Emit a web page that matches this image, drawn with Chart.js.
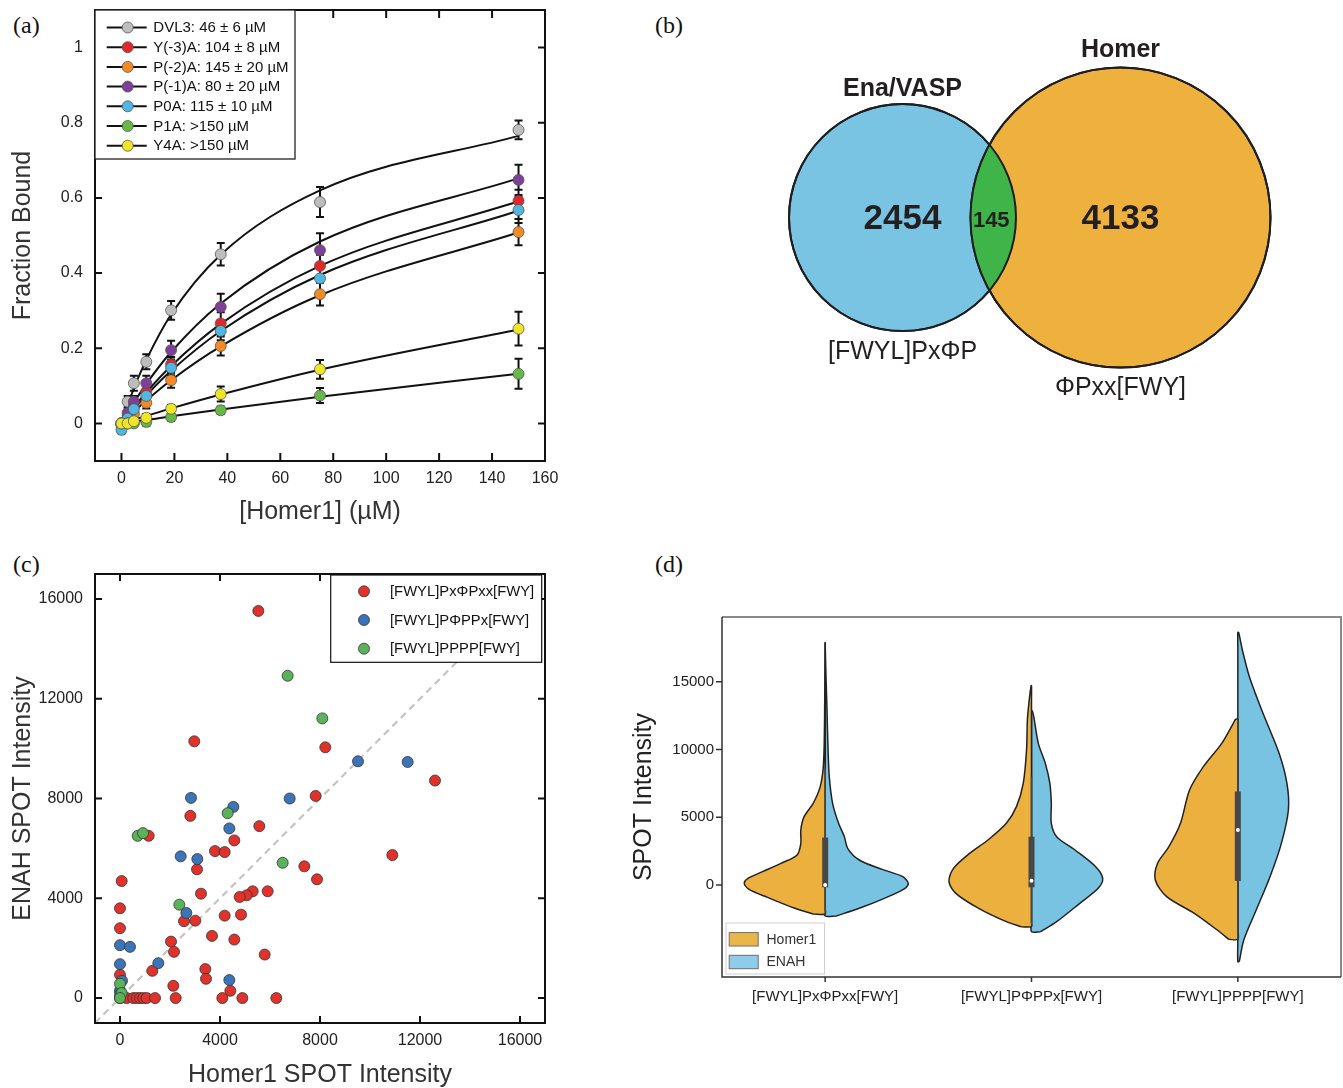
<!DOCTYPE html>
<html>
<head>
<meta charset="utf-8">
<script src="https://cdn.jsdelivr.net/npm/chart.js@4.4.1/dist/chart.umd.min.js"></script>
<style>
  html,body{margin:0;padding:0;background:#fff;}
  body{width:1343px;height:1088px;position:relative;overflow:hidden;}
  canvas{position:absolute;}
  .plab{position:absolute;font-family:"Liberation Serif","Times New Roman",serif;font-size:24px;line-height:24px;color:#111;}
</style>
</head>
<body>
<div class="plab" style="left:13px;top:13px;">(a)</div>
<div class="plab" style="left:655px;top:13px;">(b)</div>
<div class="plab" style="left:13px;top:552px;">(c)</div>
<div class="plab" style="left:655px;top:552px;">(d)</div>

<canvas id="ca" width="620" height="540" style="left:0;top:0;width:620px;height:540px;"></canvas>
<canvas id="cb" width="703" height="430" style="left:640px;top:0;width:703px;height:430px;"></canvas>
<canvas id="cc" width="620" height="538" style="left:0;top:550px;width:620px;height:538px;"></canvas>
<canvas id="cd" width="723" height="538" style="left:620px;top:550px;width:723px;height:538px;"></canvas>

<script>
// ================= DATA =================
// ---- Panel (a): binding data (points) ----
const concA = [0, 2.34, 4.69, 9.38, 18.75, 37.5, 75, 150];
const namesA = ['DVL3: 46 ± 6 µM', 'Y(-3)A: 104 ± 8 µM', 'P(-2)A: 145 ± 20 µM', 'P(-1)A: 80 ± 20 µM', 'P0A: 115 ± 10 µM', 'P1A: >150 µM', 'Y4A: >150 µM'];
const fbDVL3 = [-0.005, 0.058, 0.107, 0.164, 0.301, 0.450, 0.589, 0.781];
const fbY3A  = [0.000, 0.020, 0.048, 0.084, 0.157, 0.266, 0.419, 0.592];
const fbP2A  = [0.000, 0.010, 0.025, 0.055, 0.115, 0.206, 0.344, 0.509];
const fbP1A  = [0.000, 0.028, 0.058, 0.107, 0.195, 0.310, 0.461, 0.648];
const fbP0A  = [-0.017, 0.013, 0.038, 0.073, 0.148, 0.246, 0.386, 0.568];
const fbP1Ala= [0.000, 0.000, 0.000, 0.004, 0.017, 0.035, 0.074, 0.132];
const fbY4A  = [0.000, 0.000, 0.006, 0.015, 0.039, 0.078, 0.144, 0.252];
// error bars (half-heights)
const errDVL3 = [0.01, 0.015, 0.02, 0.02, 0.025, 0.03, 0.04, 0.025];
const errY3A  = [0.01, 0.01, 0.01, 0.015, 0.02, 0.03, 0.03, 0.03];
const errP2A  = [0.01, 0.01, 0.01, 0.015, 0.02, 0.025, 0.03, 0.035];
const errP1A  = [0.01, 0.01, 0.015, 0.02, 0.025, 0.035, 0.045, 0.04];
const errP0A  = [0.01, 0.01, 0.01, 0.015, 0.02, 0.025, 0.035, 0.035];
const errP1Ala= [0.005, 0.005, 0.005, 0.01, 0.01, 0.01, 0.02, 0.04];
const errY4A  = [0.005, 0.005, 0.005, 0.01, 0.01, 0.02, 0.025, 0.045];
// fitted curves at the same concentrations
const fitDVL3 = [0, 0.048, 0.093, 0.169, 0.290, 0.449, 0.620, 0.765];
const fitY3A  = [0, 0.022, 0.043, 0.083, 0.153, 0.265, 0.419, 0.591];
const fitP2A  = [0, 0.016, 0.031, 0.061, 0.115, 0.205, 0.341, 0.508];
const fitP1A  = [0, 0.028, 0.055, 0.105, 0.190, 0.319, 0.484, 0.652];
const fitP0A  = [0, 0.020, 0.039, 0.075, 0.140, 0.246, 0.395, 0.566];
const fitP1Ala= [0, 0.002, 0.005, 0.009, 0.019, 0.037, 0.071, 0.132];
const fitY4A  = [0, 0.005, 0.010, 0.020, 0.040, 0.077, 0.143, 0.250];
const xTicksA = [0, 20, 40, 60, 80, 100, 120, 140, 160];
const yTicksA = [0, 0.2, 0.4, 0.6, 0.8, 1];
const yTickLabelsA = ['0', '0.2', '0.4', '0.6', '0.8', '1'];

// ---- Panel (b): Venn counts ----
const vennSets = ['Ena/VASP', 'Homer'];
const vennOnly = [2454, 4133];
const vennShared = 145;
const vennMotifs = ['[FWYL]PxΦP', 'ΦPxx[FWY]'];

// ---- Panel (c): SPOT intensities ----
const namesC = ['[FWYL]PxΦPxx[FWY]', '[FWYL]PΦPPx[FWY]', '[FWYL]PPPP[FWY]'];
const redX = [5533, 2973, 8213, 12600, 7827, 2813, 5573, 1147, 4573, 3800, 4187, 10893, 7373, 3080, 67, 7880, 5907, 5307, 5067, 4787, 3240, 0, 4187, 4840, 2560, 3013, 0, 3680, 4573, 2040, 2160, 5787, 1293, 3413, 3440, 0, 2133, 4413, 0, 267, 533, 667, 800, 933, 1067, 1400, 2227, 4093, 4893, 6253];
const redY = [15520, 10292, 10052, 8720, 8104, 7304, 6892, 6504, 6320, 5892, 5852, 5732, 5280, 5160, 4692, 4760, 4280, 4280, 4120, 4052, 4184, 3600, 3304, 3344, 3080, 3104, 2800, 2492, 2344, 2264, 1852, 1744, 1092, 1160, 772, 932, 492, 292, 0, 0, 0, 0, 0, 0, 0, 0, 0, 0, 0, 0];
const blueX = [9520, 11507, 2840, 6787, 4533, 4373, 2427, 3093, 2653, 0, 400, 0, 1533, 80, 4373, 0, 0];
const blueY = [9492, 9464, 8024, 8000, 7664, 6800, 5680, 5572, 3412, 2120, 2052, 1360, 1400, 692, 720, 300, 150];
const greenX = [6707, 8093, 4307, 707, 920, 6507, 2373, 0, 67, 0];
const greenY = [12920, 11212, 7412, 6504, 6612, 5424, 3744, 572, 200, 0];
const diagXY = [-1000, 17000];
const ticksC = [0, 4000, 8000, 12000, 16000];

// ---- Panel (d): split violins (value, half-width in category units) ----
const catsD = ['[FWYL]PxΦPxx[FWY]', '[FWYL]PΦPPx[FWY]', '[FWYL]PPPP[FWY]'];
const namesD = ['Homer1', 'ENAH'];
const v1HomerVal = [-2140, -1721, -910, -320, 123, 492, 984, 1598, 2213, 3074, 4057, 5041, 6025, 7254, 8730, 10943, 14000, 17900];
const v1HomerW   = [0.058, 0.147, 0.280, 0.369, 0.392, 0.374, 0.303, 0.214, 0.136, 0.118, 0.118, 0.102, 0.058, 0.024, 0.009, 0.004, 0.002, 0];
const v1EnahVal  = [-2287, -1721, -910, -246, 123, 615, 1156, 1844, 2705, 3566, 4549, 6025, 7992, 10451, 12910, 15369, 17900];
const v1EnahW    = [0.053, 0.165, 0.298, 0.387, 0.403, 0.376, 0.276, 0.165, 0.109, 0.093, 0.065, 0.036, 0.020, 0.013, 0.009, 0.004, 0];
const v2HomerVal = [-3074, -2705, -1721, -615, 246, 1230, 2336, 3320, 4549, 5779, 7500, 9959, 12172, 13647, 14705];
const v2HomerW   = [0.049, 0.122, 0.256, 0.367, 0.400, 0.378, 0.300, 0.211, 0.122, 0.073, 0.040, 0.024, 0.020, 0.011, 0.002];
const v2EnahVal  = [-3443, -2705, -1352, -246, 492, 1352, 2582, 3566, 4549, 6025, 7500, 8975, 10451, 12418, 12836];
const v2EnahW    = [0.044, 0.122, 0.234, 0.323, 0.345, 0.311, 0.211, 0.122, 0.096, 0.096, 0.089, 0.067, 0.033, 0.011, 0.004];
const v3HomerVal = [-4008, -3320, -2090, -861, 369, 1598, 2828, 4549, 7008, 8730, 10451, 11926, 12221];
const v3HomerW   = [0.044, 0.100, 0.211, 0.345, 0.400, 0.389, 0.334, 0.278, 0.234, 0.167, 0.078, 0.022, 0.011];
const v3EnahVal  = [-5656, -4057, -1844, 615, 3074, 5533, 7500, 9713, 12664, 15369, 17336, 18640];
const v3EnahW    = [0.007, 0.029, 0.089, 0.156, 0.211, 0.245, 0.238, 0.200, 0.122, 0.056, 0.022, 0.004];
const boxQ1  = [-170, -170, 300];
const boxQ3  = [3500, 3560, 6900];
const boxMed = [0, 320, 4050];
const whiskLo = [-2100, -3000, -4000];
const whiskHi = [8600, 8000, 12200];
const yTicksD = [0, 5000, 10000, 15000];

// ================= STYLE / HELPERS =================
const SANS = '"Liberation Sans", Arial, Helvetica, sans-serif';
Chart.defaults.font.family = SANS;
Chart.defaults.color = '#222';
Chart.defaults.animation = false;
Chart.defaults.events = [];
Chart.defaults.plugins.legend.display = false;
Chart.defaults.plugins.tooltip.enabled = false;

const colorsA = ['#BDBDBD', '#E3262A', '#F58A25', '#7E3F98', '#4FB7E2', '#67B845', '#F0E526'];
const colorsC = ['#E0312B', '#3C74BA', '#5AB35A'];
const colorsD = ['#ECB03E', '#79C3E2'];

function xy(xs, ys) { return xs.map((x, i) => ({x: x, y: ys[i]})); }
function fixX(h) { return s => { s.height = h; s.paddingLeft = 0; s.paddingRight = 0; }; }
function fixY(w) { return s => { s.width = w; s.paddingTop = 0; s.paddingBottom = 0; }; }

// frame with inward ticks on all four sides
const boxFrame = {
  id: 'boxFrame',
  afterDatasetsDraw(chart, args, o) {
    const {ctx, chartArea: a, scales: {x, y}} = chart;
    ctx.save();
    ctx.strokeStyle = '#111';
    ctx.lineWidth = 2;
    ctx.beginPath();
    x.ticks.forEach(t => {
      const px = x.getPixelForValue(t.value);
      ctx.moveTo(px, a.bottom); ctx.lineTo(px, a.bottom - o.xLen);
      ctx.moveTo(px, a.top); ctx.lineTo(px, a.top + o.xLen);
    });
    y.ticks.forEach(t => {
      const py = y.getPixelForValue(t.value);
      ctx.moveTo(a.left, py); ctx.lineTo(a.left + o.yLen, py);
      ctx.moveTo(a.right, py); ctx.lineTo(a.right - o.yLen, py);
    });
    ctx.stroke();
    ctx.strokeRect(a.left, a.top, a.right - a.left, a.bottom - a.top);
    ctx.restore();
  }
};

// ================= PANEL (a) =================
const seriesA = [fbDVL3, fbY3A, fbP2A, fbP1A, fbP0A, fbP1Ala, fbY4A];
const fitsA = [fitDVL3, fitY3A, fitP2A, fitP1A, fitP0A, fitP1Ala, fitY4A];
const errsA = [errDVL3, errY3A, errP2A, errP1A, errP0A, errP1Ala, errY4A];

const errorBars = {
  id: 'errorBars',
  beforeDatasetsDraw(chart) {
    const {ctx, scales: {x, y}} = chart;
    ctx.save();
    ctx.strokeStyle = '#111';
    ctx.lineWidth = 2;
    ctx.beginPath();
    seriesA.forEach((s, i) => {
      s.forEach((v, j) => {
        const e = errsA[i][j];
        const px = x.getPixelForValue(concA[j]);
        const p1 = y.getPixelForValue(v + e), p2 = y.getPixelForValue(v - e);
        ctx.moveTo(px, p1); ctx.lineTo(px, p2);
        ctx.moveTo(px - 4, p1); ctx.lineTo(px + 4, p1);
        ctx.moveTo(px - 4, p2); ctx.lineTo(px + 4, p2);
      });
    });
    ctx.stroke();
    ctx.restore();
  }
};

const legendA = {
  id: 'legendA',
  afterDraw(chart) {
    const {ctx, chartArea: a} = chart;
    ctx.save();
    ctx.fillStyle = '#fff';
    ctx.fillRect(a.left, a.top, 200, 149);
    ctx.strokeStyle = '#222';
    ctx.lineWidth = 1.3;
    ctx.strokeRect(a.left, a.top, 200, 149);
    ctx.font = '15px ' + SANS;
    ctx.textBaseline = 'middle';
    namesA.forEach((n, i) => {
      const cy = a.top + 17.5 + i * 19.7;
      ctx.strokeStyle = '#111'; ctx.lineWidth = 2;
      ctx.beginPath(); ctx.moveTo(a.left + 11.7, cy); ctx.lineTo(a.left + 51.7, cy); ctx.stroke();
      ctx.beginPath(); ctx.arc(a.left + 32.7, cy, 5.5, 0, Math.PI * 2);
      ctx.fillStyle = colorsA[i]; ctx.fill();
      ctx.lineWidth = 0.8; ctx.strokeStyle = '#555'; ctx.stroke();
      ctx.fillStyle = '#111';
      ctx.fillText(n, a.left + 58.3, cy + 0.5);
    });
    ctx.restore();
  }
};

const dsA = [];
fitsA.forEach((s, i) => {
  dsA.push({
    type: 'line', data: xy(concA, s), borderColor: '#111', borderWidth: 2,
    pointRadius: 0, cubicInterpolationMode: 'monotone', fill: false, order: 10
  });
});
seriesA.forEach((s, i) => {
  dsA.push({
    type: 'scatter', data: xy(concA, s), backgroundColor: colorsA[i], borderColor: '#555',
    borderWidth: 0.8, pointRadius: 5.5, showLine: false, order: -i
  });
});

new Chart(document.getElementById('ca'), {
  type: 'scatter',
  data: {datasets: dsA},
  options: {
    responsive: false,
    layout: {padding: {top: 10, right: 75, left: 0, bottom: 0}, autoPadding: false},
    scales: {
      x: {
        type: 'linear', min: -10, max: 160,
        afterBuildTicks: s => { s.ticks = xTicksA.map(v => ({value: v})); },
        afterFit: fixX(79),
        grid: {display: false, drawTicks: false}, border: {display: false},
        ticks: {font: {size: 16}, color: '#222', padding: 8, maxRotation: 0, callback: v => String(v)},
        title: {display: true, text: '[Homer1] (µM)', font: {size: 25}, color: '#333', padding: {top: 0, bottom: 13}}
      },
      y: {
        type: 'linear', min: -0.1, max: 1.1,
        afterBuildTicks: s => { s.ticks = yTicksA.map(v => ({value: v})); },
        afterFit: fixY(95),
        grid: {display: false, drawTicks: false}, border: {display: false},
        ticks: {font: {size: 16}, color: '#222', padding: 12, callback: (v, i) => yTickLabelsA[i]},
        title: {display: true, text: 'Fraction Bound', font: {size: 25}, color: '#333', padding: {top: 8, bottom: 0}}
      }
    },
    plugins: {boxFrame: {xLen: 8, yLen: 7}}
  },
  plugins: [errorBars, boxFrame, legendA]
});

// ================= PANEL (b) =================
const vennColors = ['#79C4E3', '#EEB13E'];
const vennRadius = [113.5, 150];
const vennDraw = {
  id: 'vennDraw',
  afterDatasetsDraw(chart) {
    const {ctx} = chart;
    const els = chart.getDatasetMeta(0).data;
    const A = els[0], B = els[1];
    const rA = vennRadius[0], rB = vennRadius[1];
    ctx.save();
    ctx.beginPath(); ctx.arc(A.x, A.y, rA, 0, Math.PI * 2); ctx.clip();
    ctx.beginPath(); ctx.arc(B.x, B.y, rB, 0, Math.PI * 2);
    ctx.fillStyle = '#3FB549'; ctx.fill();
    ctx.restore();
    ctx.save();
    ctx.strokeStyle = '#1E1E1E'; ctx.lineWidth = 2;
    ctx.beginPath(); ctx.arc(A.x, A.y, rA, 0, Math.PI * 2); ctx.stroke();
    ctx.beginPath(); ctx.arc(B.x, B.y, rB, 0, Math.PI * 2); ctx.stroke();
    ctx.fillStyle = '#231F20';
    ctx.textAlign = 'center';
    ctx.textBaseline = 'alphabetic';
    ctx.font = 'bold 25px ' + SANS;
    ctx.fillText(vennSets[0], A.x, A.y - rA - 8);
    ctx.fillText(vennSets[1], B.x, B.y - rB - 11);
    ctx.font = 'bold 35px ' + SANS;
    ctx.fillText(String(vennOnly[0]), A.x, A.y + 11);
    ctx.fillText(String(vennOnly[1]), B.x, B.y + 11);
    ctx.font = 'bold 22px ' + SANS;
    const lensX = ((B.x - rB) + (A.x + rA)) / 2 - 2;
    ctx.fillText(String(vennShared), lensX, A.y + 9);
    ctx.font = '25px ' + SANS;
    ctx.fillText(vennMotifs[0], A.x, A.y + rA + 28);
    ctx.fillText(vennMotifs[1], B.x, B.y + rB + 27.5);
    ctx.restore();
  }
};
new Chart(document.getElementById('cb'), {
  type: 'bubble',
  data: {datasets: [{
    data: vennSets.map((s, i) => ({x: i, y: 0})),
    backgroundColor: vennColors,
    borderColor: '#1E1E1E', borderWidth: 2,
    radius: ctx => vennRadius[ctx.dataIndex]
  }]},
  options: {
    responsive: false,
    layout: {padding: 0, autoPadding: false},
    scales: {
      x: {type: 'linear', display: false, min: -1.2041, max: 2.0206},
      y: {type: 'linear', display: false, min: -0.9879, max: 1.0121}
    }
  },
  plugins: [vennDraw]
});

// ================= PANEL (c) =================
const legendC = {
  id: 'legendC',
  afterDraw(chart) {
    const {ctx, chartArea: a} = chart;
    const L = 330.7, T = a.top + 1, W = 211, H = 87.3;
    ctx.save();
    ctx.fillStyle = '#fff'; ctx.fillRect(L, T, W, H);
    ctx.strokeStyle = '#111'; ctx.lineWidth = 1.2; ctx.strokeRect(L, T, W, H);
    ctx.font = '14.8px ' + SANS; ctx.textBaseline = 'middle';
    namesC.forEach((n, i) => {
      const cy = T + 16.3 + i * 28.7;
      ctx.beginPath(); ctx.arc(L + 33.3, cy, 5.5, 0, Math.PI * 2);
      ctx.fillStyle = colorsC[i]; ctx.fill();
      ctx.strokeStyle = '#333'; ctx.lineWidth = 0.8; ctx.stroke();
      ctx.fillStyle = '#111';
      ctx.fillText(n, L + 59.3, cy + 0.5);
    });
    ctx.restore();
  }
};
const ptsC = [[redX, redY], [blueX, blueY], [greenX, greenY]];
const dsC = [{
  data: xy(diagXY, diagXY), showLine: true, borderColor: '#C4C4C4', borderWidth: 2.2,
  borderDash: [7, 5], pointRadius: 0, fill: false, order: 20
}];
ptsC.forEach((p, i) => {
  dsC.push({data: xy(p[0], p[1]), backgroundColor: colorsC[i], borderColor: '#333', borderWidth: 0.8, pointRadius: 5.5, order: 3 - i});
});
new Chart(document.getElementById('cc'), {
  type: 'scatter',
  data: {datasets: dsC},
  options: {
    responsive: false,
    layout: {padding: {top: 24, right: 75, left: 0, bottom: 0}, autoPadding: false},
    scales: {
      x: {
        type: 'linear', min: -1000, max: 17000,
        afterBuildTicks: s => { s.ticks = ticksC.map(v => ({value: v})); },
        afterFit: fixX(65),
        grid: {display: false, drawTicks: false}, border: {display: false},
        ticks: {font: {size: 16}, color: '#222', padding: 8, maxRotation: 0, callback: v => String(v)},
        title: {display: true, text: 'Homer1 SPOT Intensity', font: {size: 25}, color: '#333', padding: {top: 0, bottom: -2}}
      },
      y: {
        type: 'linear', min: -1000, max: 17000,
        afterBuildTicks: s => { s.ticks = ticksC.map(v => ({value: v})); },
        afterFit: fixY(95),
        grid: {display: false, drawTicks: false}, border: {display: false},
        ticks: {font: {size: 16}, color: '#222', padding: 12, callback: v => String(v)},
        title: {display: true, text: 'ENAH SPOT Intensity', font: {size: 25}, color: '#333', padding: {top: 8, bottom: 0}}
      }
    },
    plugins: {boxFrame: {xLen: 7, yLen: 7}}
  },
  plugins: [boxFrame, legendC]
});

// ================= PANEL (d) =================
function halfViolin(center, side, vals, widths) {
  const pts = [];
  for (let i = 0; i < vals.length; i++) pts.push({x: center + side * widths[i], y: vals[i]});
  for (let i = vals.length - 1; i >= 0; i--) pts.push({x: center, y: vals[i]});
  pts.push({x: center + side * widths[0], y: vals[0]});
  return pts;
}
const violins = [
  [v1HomerVal, v1HomerW, v1EnahVal, v1EnahW],
  [v2HomerVal, v2HomerW, v2EnahVal, v2EnahW],
  [v3HomerVal, v3HomerW, v3EnahVal, v3EnahW]
];
const dsD = [];
violins.forEach((v, c) => {
  dsD.push({type: 'line', data: halfViolin(c, -1, v[0], v[1]), backgroundColor: colorsD[0], borderColor: '#222',
    borderWidth: 1.5, pointRadius: 0, tension: 0.3, fill: 'shape', order: 10});
  dsD.push({type: 'line', data: halfViolin(c, 1, v[2], v[3]), backgroundColor: colorsD[1], borderColor: '#222',
    borderWidth: 1.5, pointRadius: 0, tension: 0.3, fill: 'shape', order: 10});
  dsD.push({type: 'line', data: [{x: c, y: whiskLo[c]}, {x: c, y: whiskHi[c]}], borderColor: '#474747',
    borderWidth: 1.5, pointRadius: 0, fill: false, order: 5});
  dsD.push({type: 'line', data: [{x: c, y: boxQ1[c]}, {x: c, y: boxQ3[c]}], borderColor: '#474747',
    borderWidth: 6, borderCapStyle: 'butt', pointRadius: 0, fill: false, order: 4});
  dsD.push({type: 'scatter', data: [{x: c, y: boxMed[c]}], backgroundColor: '#fff', borderWidth: 0,
    pointRadius: 2, order: 1});
});

const frameD = {
  id: 'frameD',
  afterDraw(chart) {
    const {ctx, chartArea: a, scales: {x, y}} = chart;
    ctx.save();
    ctx.strokeStyle = '#8A8A8A'; ctx.lineWidth = 2;
    ctx.beginPath(); ctx.moveTo(a.left, a.top); ctx.lineTo(a.right, a.top); ctx.lineTo(a.right, a.bottom); ctx.stroke();
    ctx.strokeStyle = '#333'; ctx.lineWidth = 1.5;
    ctx.beginPath(); ctx.moveTo(a.left, a.top); ctx.lineTo(a.left, a.bottom); ctx.lineTo(a.right, a.bottom);
    y.ticks.forEach(t => { const py = y.getPixelForValue(t.value); ctx.moveTo(a.left, py); ctx.lineTo(a.left - 6, py); });
    x.ticks.forEach(t => { const px = x.getPixelForValue(t.value); ctx.moveTo(px, a.bottom); ctx.lineTo(px, a.bottom + 5); });
    ctx.stroke();
    const L = a.left + 4, T = a.bottom - 54, W = 98.5, H = 51;
    ctx.fillStyle = 'rgba(255,255,255,0.9)';
    ctx.fillRect(L, T, W, H);
    ctx.strokeStyle = '#CFCFCF'; ctx.lineWidth = 1; ctx.strokeRect(L, T, W, H);
    ctx.font = '14px ' + SANS; ctx.textBaseline = 'middle';
    const sw = ['#E9B649', '#8FCBEB'];
    namesD.forEach((n, i) => {
      const cy = T + 16.3 + i * 22.7;
      ctx.fillStyle = sw[i]; ctx.fillRect(L + 3.2, cy - 6.7, 29, 13.4);
      ctx.strokeStyle = '#6E6E6E'; ctx.lineWidth = 1; ctx.strokeRect(L + 3.2, cy - 6.7, 29, 13.4);
      ctx.fillStyle = '#333'; ctx.fillText(n, L + 40.5, cy + 0.5);
    });
    ctx.restore();
  }
};

new Chart(document.getElementById('cd'), {
  type: 'scatter',
  data: {datasets: dsD},
  options: {
    responsive: false,
    layout: {padding: {top: 67, right: 2, left: 0, bottom: 0}, autoPadding: false},
    scales: {
      x: {
        type: 'linear', min: -0.5, max: 2.5,
        afterBuildTicks: s => { s.ticks = catsD.map((c, i) => ({value: i})); },
        afterFit: fixX(111),
        grid: {display: false, drawTicks: false}, border: {display: false},
        ticks: {font: {size: 15}, color: '#222', padding: 11, maxRotation: 0, autoSkip: false, callback: (v, i) => catsD[i]}
      },
      y: {
        type: 'linear', min: -6787, max: 19770,
        afterBuildTicks: s => { s.ticks = yTicksD.map(v => ({value: v})); },
        afterFit: fixY(102),
        grid: {display: false, drawTicks: false}, border: {display: false},
        ticks: {font: {size: 15}, color: '#222', padding: 8, callback: v => String(v)},
        title: {display: true, text: 'SPOT Intensity', font: {size: 25}, color: '#222', padding: {top: 9, bottom: 0}}
      }
    }
  },
  plugins: [frameD]
});
</script>
</body>
</html>
